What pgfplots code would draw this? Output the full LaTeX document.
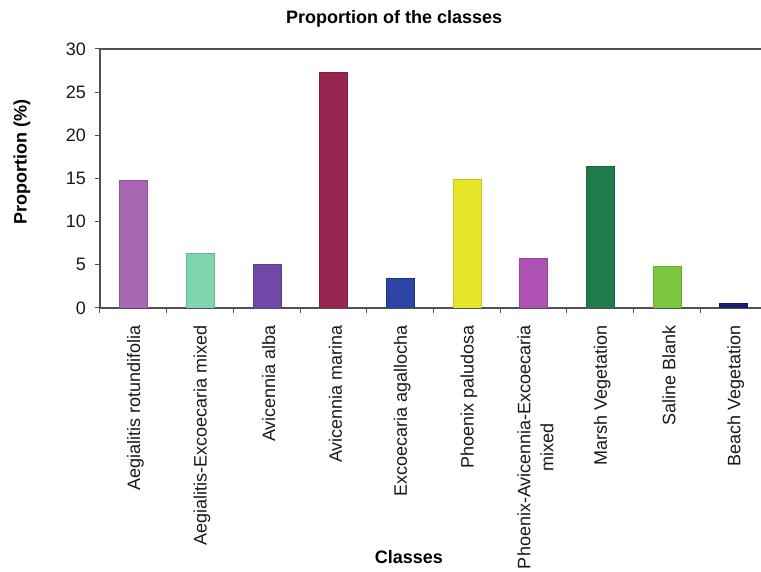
\documentclass[border=0pt]{standalone}
\usepackage{fontspec}
\setmainfont{Liberation Sans}
\usepackage{pgfplots}
\pgfplotsset{compat=1.18}

\definecolor{cA}{HTML}{A865B2}
\definecolor{cB}{HTML}{7ED4AE}
\definecolor{cC}{HTML}{7048A8}
\definecolor{cD}{HTML}{962450}
\definecolor{cE}{HTML}{2C44A6}
\definecolor{cF}{HTML}{E6E628}
\definecolor{cG}{HTML}{AE52B4}
\definecolor{cH}{HTML}{1F7A4C}
\definecolor{cI}{HTML}{7AC63C}
\definecolor{cJ}{HTML}{1C1F6E}
\definecolor{axisgray}{HTML}{505050}

\newcommand{\lbl}{\fontsize{18}{23}\selectfont}
\newcommand{\blbl}{\fontsize{18}{23}\selectfont\bfseries}

\begin{document}
\begin{tikzpicture}
\useasboundingbox (-100pt,-264pt) rectangle (661pt,308pt);
\begin{axis}[
  at={(0,0)}, anchor=south west,
  scale only axis, width=667pt, height=259pt,
  xmin=-0.5, xmax=9.5, ymin=0, ymax=30,
  ytick={0,5,...,30},
  xtick={-0.5,0.5,...,9.5},
  x tick label as interval,
  xticklabels={Aegialitis rotundifolia, Aegialitis-Excoecaria mixed, Avicennia alba, Avicennia marina, Excoecaria agallocha, Phoenix paludosa, {Phoenix-Avicennia-Excoecaria\\mixed}, Marsh Vegetation, Saline Blank, Beach Vegetation},
  xtick pos=bottom, ytick pos=left,
  tick align=outside, major tick length=5pt,
  axis line style={axisgray, line width=1.2pt},
  every tick/.style={axisgray, line width=1pt},
  /pgf/number format/assume math mode=true,
  tick label style={font=\lbl, text=black!90},
  yticklabel style={anchor=east, inner sep=0pt, xshift=-9pt},
  xticklabel style={rotate=90, anchor=east, inner sep=0pt, align=center, xshift=-12pt, yshift=-2pt},
  ybar, bar width=28pt,
  title={Proportion of the classes},
  title style={font=\blbl, at={(axis description cs:0.441,1.077)}, anchor=base},
  xlabel={Classes},
  xlabel style={font=\blbl, at={(axis description cs:0.463,-0.985)}, anchor=base},
  ylabel={Proportion (\%)},
  ylabel style={font=\blbl, at={(axis description cs:-0.117,0.564)}, rotate=0, anchor=center},
]
\addplot[bar shift=0pt, fill=cA, draw=cA!85!black] coordinates {(0,14.85)};
\addplot[bar shift=0pt, fill=cB, draw=cB!85!black] coordinates {(1,6.37)};
\addplot[bar shift=0pt, fill=cC, draw=cC!85!black] coordinates {(2,5.09)};
\addplot[bar shift=0pt, fill=cD, draw=cD!85!black] coordinates {(3,27.31)};
\addplot[bar shift=0pt, fill=cE, draw=cE!75!black] coordinates {(4,3.47)};
\addplot[bar shift=0pt, fill=cF, draw=cF!85!black] coordinates {(5,14.97)};
\addplot[bar shift=0pt, fill=cG, draw=cG!85!black] coordinates {(6,5.79)};
\addplot[bar shift=0pt, fill=cH, draw=cH!85!black] coordinates {(7,16.47)};
\addplot[bar shift=0pt, fill=cI, draw=cI!85!black] coordinates {(8,4.82)};
\addplot[bar shift=0pt, fill=cJ, draw=cJ!85!black] coordinates {(9,0.58)};
\end{axis}
\end{tikzpicture}
\end{document}
